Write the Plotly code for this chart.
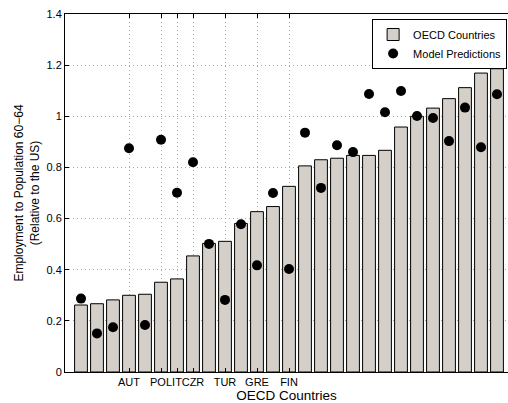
import plotly.graph_objects as go

positions = list(range(1, 28))
oecd_values = [0.262, 0.267, 0.282, 0.300, 0.304, 0.351, 0.364, 0.454, 0.503, 0.511,
               0.581, 0.627, 0.647, 0.726, 0.806, 0.830, 0.836, 0.847, 0.847, 0.867,
               0.958, 1.000, 1.032, 1.069, 1.112, 1.169, 1.186]
model_values = [0.287, 0.151, 0.175, 0.875, 0.184, 0.908, 0.701, 0.820, 0.501, 0.282,
                0.578, 0.417, 0.700, 0.403, 0.936, 0.720, 0.887, 0.860, 1.087, 1.016,
                1.099, 1.001, 0.993, 0.903, 1.034, 0.879, 1.086]
tick_positions = [4, 6, 7, 8, 10, 12, 14]
tick_labels = ["AUT", "POL", "IT", "CZR", "TUR", "GRE", "FIN"]
y_ticks = [0, 0.2, 0.4, 0.6, 0.8, 1.0, 1.2, 1.4]

FONT = "Liberation Sans, Arial, Helvetica, sans-serif"
GRID = "#a8a8a8"

fig = go.Figure()
fig.add_trace(go.Bar(
    x=positions, y=oecd_values, width=0.8, name="OECD Countries",
    marker=dict(color="#d4d0c9", line=dict(color="black", width=1)),
))
fig.add_trace(go.Scatter(
    x=positions, y=model_values, mode="markers", name="Model Predictions",
    marker=dict(color="black", size=10, symbol="circle"),
))

fig.update_layout(
    width=508, height=403,
    margin=dict(l=65, r=0, t=14, b=31),
    paper_bgcolor="white", plot_bgcolor="white",
    font=dict(family=FONT, size=11, color="black"),
    showlegend=True,
    legend=dict(
        x=0.998, y=0.986, xanchor="right", yanchor="top",
        bgcolor="white", bordercolor="black", borderwidth=1,
        font=dict(size=11), tracegroupgap=0,
    ),
    xaxis=dict(
        range=[0, 443 / 16], tickmode="array", tickvals=tick_positions, ticktext=tick_labels,
        tickangle=0,
        showline=True, linecolor="black", linewidth=1, mirror="ticks",
        ticks="inside", ticklen=4, tickcolor="black",
        showgrid=True, gridcolor=GRID, griddash="1px,3px", gridwidth=1,
        zeroline=False, tickfont=dict(size=11),
        title=dict(text="OECD Countries", font=dict(size=13.5), standoff=4),
    ),
    yaxis=dict(
        range=[0, 1.4], tickmode="array", tickvals=y_ticks,
        ticktext=["0", "0.2", "0.4", "0.6", "0.8", "1", "1.2", "1.4"],
        showline=True, linecolor="black", linewidth=1, mirror=False,
        ticks="inside", ticklen=4, tickcolor="black",
        showgrid=True, gridcolor=GRID, griddash="1px,3px", gridwidth=1,
        zeroline=False, tickfont=dict(size=11),
        title=dict(text="Employment to Population 60\u221264<br>(Relative to the US)",
                   font=dict(size=12), standoff=4),
    ),
    bargap=0.2,
)

fig.write_html("out.html")
